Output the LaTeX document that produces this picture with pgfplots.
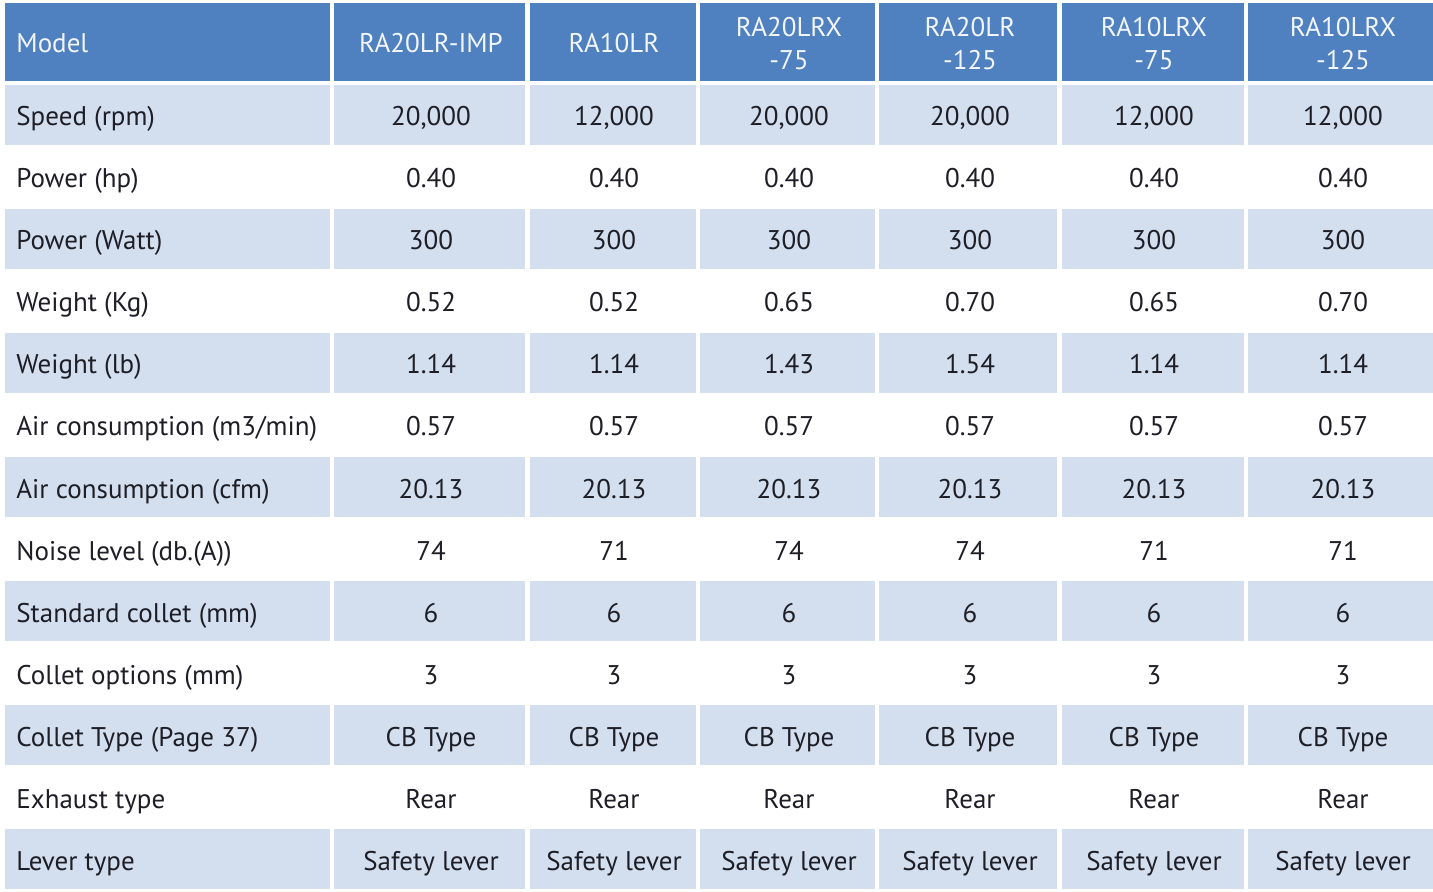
\documentclass[border=0pt]{standalone}
\usepackage{pgfplots}
\pgfplotsset{compat=1.18}
\usepackage{fontspec}
\setmainfont{PT Sans}
\definecolor{hdr}{HTML}{4F80BF}
\definecolor{cell}{HTML}{D3DFEF}
\definecolor{txt}{HTML}{1E1E26}
\definecolor{htxt}{HTML}{F2F6FB}
% column edges (pixels)
\def\Lx{{5,334,530,700,879,1062,1248}}
\def\Rx{{330,525,696,875,1057,1244,1433}}
% column centres
\def\cA{431}\def\cB{614}\def\cC{789}\def\cD{970}\def\cE{1154}\def\cF{1343}
\def\lx{16}
\newcommand\trow[8]{%
  \node[anchor=base west,txt] at (axis cs:\lx,#1) {#2};
  \node[anchor=base,txt] at (axis cs:\cA,#1) {#3};
  \node[anchor=base,txt] at (axis cs:\cB,#1) {#4};
  \node[anchor=base,txt] at (axis cs:\cC,#1) {#5};
  \node[anchor=base,txt] at (axis cs:\cD,#1) {#6};
  \node[anchor=base,txt] at (axis cs:\cE,#1) {#7};
  \node[anchor=base,txt] at (axis cs:\cF,#1) {#8};
}
\begin{document}
\fontsize{13.5}{16.8}\selectfont
\begin{tikzpicture}[every node/.style={font=\fontsize{13.5}{16.8}\selectfont, inner sep=0pt}]
\begin{axis}[scale only axis, width=716.5pt, height=446pt,
  xmin=0, xmax=1433, ymin=0, ymax=892, y dir=reverse,
  hide axis, clip=false]
\addplot[fill=white, draw=none] coordinates {(0,0) (1433,0) (1433,892) (0,892)} -- cycle;
% header cells
\foreach \c in {0,...,6} {
  \pgfmathsetmacro{\l}{\Lx[\c]}
  \pgfmathsetmacro{\r}{\Rx[\c]}
  \edef\tmp{\noexpand\addplot[fill=hdr, draw=none] coordinates {(\l,3) (\r,3) (\r,81) (\l,81)} -- cycle;}
  \tmp
}
% shaded body rows
\foreach \k in {1,3,...,13} {
  \foreach \c in {0,...,6} {
    \pgfmathsetmacro{\l}{\Lx[\c]}
    \pgfmathsetmacro{\r}{\Rx[\c]}
    \pgfmathsetmacro{\t}{85+62*(\k-1)}
    \pgfmathsetmacro{\b}{\t+60}
    \edef\tmp{\noexpand\addplot[fill=cell, draw=none] coordinates {(\l,\t) (\r,\t) (\r,\b) (\l,\b)} -- cycle;}
    \tmp
  }
}
% header text
\node[anchor=base west,htxt] at (axis cs:\lx,53) {Model};
\node[anchor=base,htxt] at (axis cs:\cA,53) {RA20LR-IMP};
\node[anchor=base,htxt] at (axis cs:\cB,53) {RA10LR};
\node[anchor=base,htxt] at (axis cs:\cC,37) {RA20LRX};
\node[anchor=base,htxt] at (axis cs:\cC,70) {-75};
\node[anchor=base,htxt] at (axis cs:\cD,37) {RA20LR};
\node[anchor=base,htxt] at (axis cs:\cD,70) {-125};
\node[anchor=base,htxt] at (axis cs:\cE,37) {RA10LRX};
\node[anchor=base,htxt] at (axis cs:\cE,70) {-75};
\node[anchor=base,htxt] at (axis cs:\cF,37) {RA10LRX};
\node[anchor=base,htxt] at (axis cs:\cF,70) {-125};
% body (baseline positions)
\trow{126}{Speed (rpm)}{20,000}{12,000}{20,000}{20,000}{12,000}{12,000}
\trow{188}{Power (hp)}{0.40}{0.40}{0.40}{0.40}{0.40}{0.40}
\trow{250}{Power (Watt)}{300}{300}{300}{300}{300}{300}
\trow{312}{Weight (Kg)}{0.52}{0.52}{0.65}{0.70}{0.65}{0.70}
\trow{374}{Weight (lb)}{1.14}{1.14}{1.43}{1.54}{1.14}{1.14}
\trow{436}{Air consumption (m3/min)}{0.57}{0.57}{0.57}{0.57}{0.57}{0.57}
\trow{498}{Air consumption (cfm)}{20.13}{20.13}{20.13}{20.13}{20.13}{20.13}
\trow{560}{Noise level (db.(A))}{74}{71}{74}{74}{71}{71}
\trow{622}{Standard collet (mm)}{6}{6}{6}{6}{6}{6}
\trow{684}{Collet options (mm)}{3}{3}{3}{3}{3}{3}
\trow{746}{Collet Type (Page 37)}{CB Type}{CB Type}{CB Type}{CB Type}{CB Type}{CB Type}
\trow{808}{Exhaust type}{Rear}{Rear}{Rear}{Rear}{Rear}{Rear}
\trow{870}{Lever type}{Safety lever}{Safety lever}{Safety lever}{Safety lever}{Safety lever}{Safety lever}
\end{axis}
\end{tikzpicture}
\end{document}
